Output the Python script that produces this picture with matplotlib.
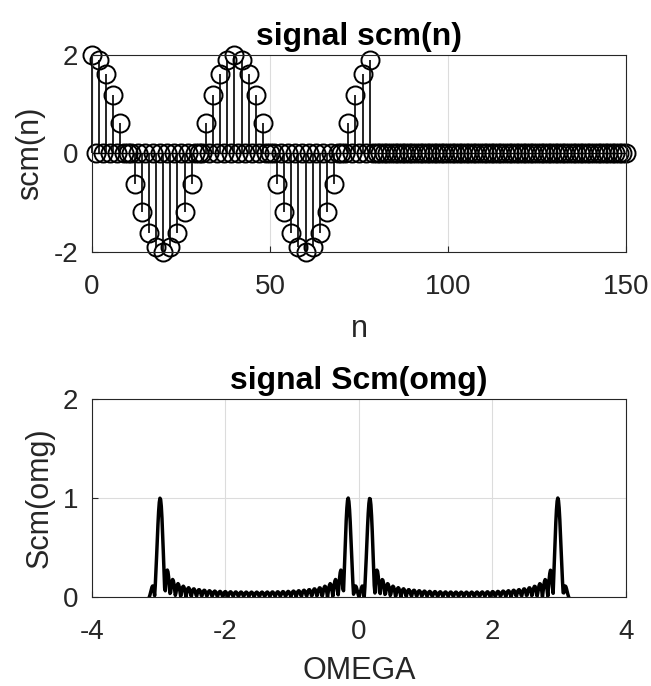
import numpy as np
import matplotlib
matplotlib.use("Agg")
import matplotlib.pyplot as plt

plt.rcParams['font.family'] = ['Liberation Sans', 'DejaVu Sans']
plt.rcParams['axes.unicode_minus'] = False

# signal samples at even n = 0, 2, ..., 78 (odd samples and n >= 80 are zero)
n = np.arange(0, 151)
scm_even = [2.00, 1.90, 1.62, 1.18, 0.62, 0.00, -0.62, -1.18, -1.62, -1.90,
            -2.00, -1.90, -1.62, -1.18, -0.62, 0.00, 0.62, 1.18, 1.62, 1.90,
            2.00, 1.90, 1.62, 1.18, 0.62, 0.00, -0.62, -1.18, -1.62, -1.90,
            -2.00, -1.90, -1.62, -1.18, -0.62, 0.00, 0.62, 1.18, 1.62, 1.90]
scm = np.zeros(len(n))
scm[0:80:2] = scm_even

# spectrum (DTFT magnitude, normalised)
omg = np.arange(-np.pi, np.pi, 0.01)
Scm = np.abs(np.exp(-1j * np.outer(omg, n)) @ scm)
Scm = Scm / Scm.max()

fig = plt.figure(figsize=(6.51, 6.86), dpi=100)
ax1 = fig.add_axes([0.1413, 0.6327, 0.8203, 0.2872])
ax2 = fig.add_axes([0.1413, 0.1297, 0.8203, 0.2886])

axcol = '#262626'
fs_tick = 20
fs_lab = 22
fs_title = 23

# top: stem plot
ml, sl, bl = ax1.stem(n, scm, linefmt='k-', markerfmt='ko', basefmt='k-')
ml.set_markerfacecolor('none')
ml.set_markersize(13)
ml.set_markeredgewidth(1.4)
ml.set_clip_on(False)
sl.set_linewidth(1.2)
sl.set_clip_on(False)
bl.set_linewidth(1.0)
ax1.set_xlim(0, 150)
ax1.set_ylim(-2, 2)
ax1.set_xticks([0, 50, 100, 150])
ax1.set_yticks([-2, 0, 2])
ax1.set_xlabel('n', fontsize=fs_lab, color=axcol, labelpad=10)
ax1.set_ylabel('scm(n)', fontsize=fs_lab, color=axcol, labelpad=6)
ax1.set_title('signal scm(n)', fontsize=fs_title, fontweight='bold', pad=7)

# bottom: spectrum
ax2.plot(omg, Scm, 'k-', linewidth=2.5)
ax2.set_xlim(-4, 4)
ax2.set_ylim(0, 2)
ax2.set_xticks([-4, -2, 0, 2, 4])
ax2.set_yticks([0, 1, 2])
ax2.set_xlabel('OMEGA', fontsize=fs_lab, color=axcol, labelpad=8)
ax2.set_ylabel('Scm(omg)', fontsize=fs_lab, color=axcol, labelpad=6)
ax2.set_title('signal Scm(omg)', fontsize=fs_title, fontweight='bold', pad=7)

for ax in (ax1, ax2):
    ax.grid(True, color='#dcdcdc', linewidth=0.8)
    ax.set_axisbelow(True)
    ax.tick_params(direction='in', length=4, labelsize=fs_tick, colors=axcol,
                   top=False, right=False)
    ax.tick_params(axis='x', pad=16)
    ax.tick_params(axis='y', pad=10)
    for s in ax.spines.values():
        s.set_color(axcol)
        s.set_linewidth(0.8)

fig.savefig('out.png', dpi=100)
